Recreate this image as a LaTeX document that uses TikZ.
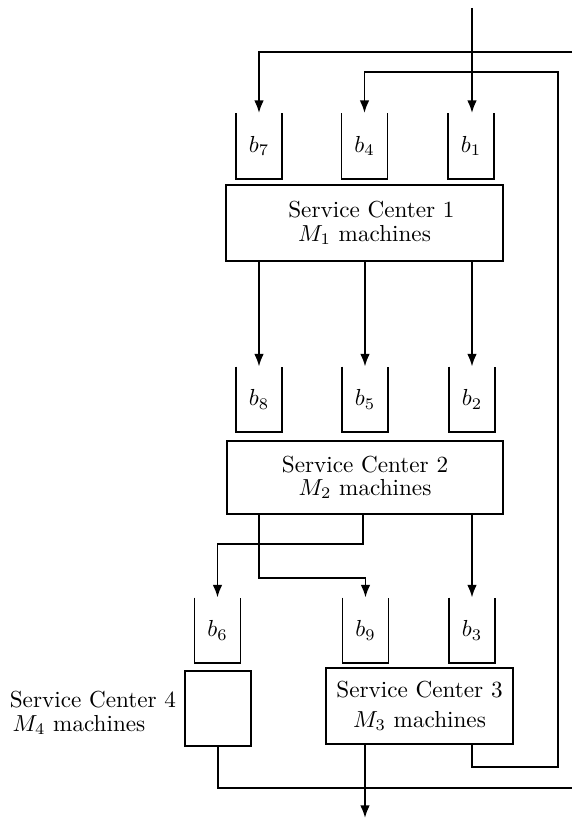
\documentclass[tikz,border=0pt]{standalone}
\usetikzlibrary{arrows.meta}
\begin{document}
\begin{tikzpicture}[x=0.4315pt,y=-0.4315pt,
  line width=0.85pt,
  flow/.style={-{Latex[length=5.5pt,width=4.2pt]}},
  bucket/.style={minimum width=19pt,minimum height=27.6pt,inner sep=0pt},
  sbox/.style={draw,inner sep=0pt,align=center},
]
\useasboundingbox (0,0) rectangle (572,819);

% buckets
\node[bucket] (b7) at (259,146) {$b_7$};
\node[bucket] (b4) at (364.5,146) {$b_4$};
\node[bucket] (b1) at (471,146) {$b_1$};
\node[bucket] (b8) at (259,399.5) {$b_8$};
\node[bucket] (b5) at (365,399.5) {$b_5$};
\node[bucket] (b2) at (472,399.5) {$b_2$};
\node[bucket] (b6) at (217.5,630.5) {$b_6$};
\node[bucket] (b9) at (365.5,630.5) {$b_9$};
\node[bucket] (b3) at (472,630.5) {$b_3$};
\foreach \b in {b1,b2,b3,b4,b5,b6,b7,b8,b9}
  \draw (\b.north west) |- (\b.south east) -- (\b.north east);

% service centers
\node[sbox,minimum width=119.5pt,minimum height=32.8pt] (sc1) at (364.5,223)
  {\hspace*{6pt}Service Center 1\\[-2pt]$M_1$ machines};
\node[sbox,minimum width=119.1pt,minimum height=31.5pt] (sc2) at (365,477.5)
  {Service Center 2\\[-2pt]$M_2$ machines};
\node[sbox,minimum width=80.7pt,minimum height=32.8pt] (sc3) at (419.5,706)
  {Service Center 3\\[0.9pt]$M_3$ machines};
\node[sbox,minimum width=28.5pt,minimum height=32.4pt] (sc4) at (218,708.5) {};
\node[anchor=east,align=left,inner sep=0pt] (l4) at (177,713)
  {Service Center 4\\[-2pt]\hspace*{1.2pt}$M_4$ machines};

% coordinates
\coordinate (in) at (472,8);
\coordinate (j1) at (259,578);
\coordinate (j2) at (363,544);
\coordinate (out) at (365,818);
\coordinate (r1) at (558,767);
\coordinate (r2) at (558,72);
\coordinate (e1) at (572,788);
\coordinate (e2) at (572,52);

% connectors
\draw[flow] (in) -- (in |- b1.north);
\draw[flow] (sc1.south -| b8) -- (b8.north);
\draw[flow] (sc1.south -| b5) -- (b5.north);
\draw[flow] (sc1.south -| b2) -- (b2.north);
\draw[flow] (sc2.south -| b3) -- (b3.north);
\draw[flow] (sc2.south -| j1) -- (j1) -| (b9.north);
\draw[flow] (sc2.south -| j2) -- (j2) -| (b6.north);
\draw[flow] (sc3.south -| out) -- (out);
\draw[flow] (sc3.south -| b3) |- (r1) -- (r2) -| (b4.north);
\draw (sc4.south) |- (e1);
\draw[flow] (e2) -| (b7.north);
\end{tikzpicture}
\end{document}
